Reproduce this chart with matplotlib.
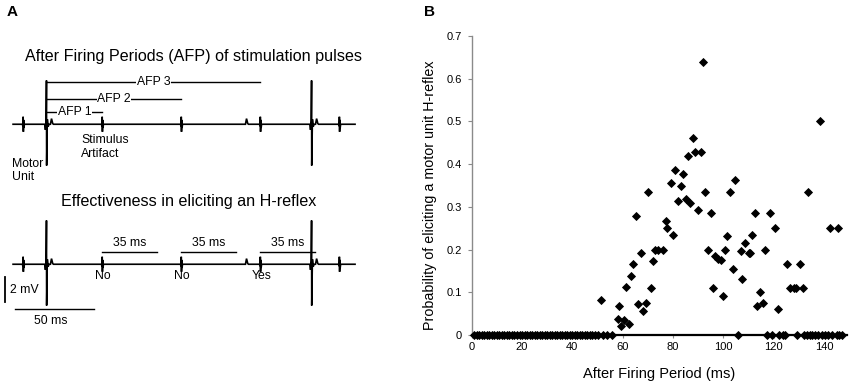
import matplotlib.pyplot as plt

plt.rcParams['font.family'] = ['Liberation Sans', 'DejaVu Sans']

# ---- panel B: probability vs after firing period ----
# zero-probability points, before the H-reflex window opens
afp_zero_early = [1, 2, 3, 4, 5, 6, 7, 8, 9, 10, 11, 12, 13, 14, 15, 16, 17, 18, 19, 20,
                  21, 22, 23, 24, 25, 26, 27, 28, 29, 30, 31, 32, 33, 34, 35, 36, 37, 38,
                  39, 40, 41, 42, 43, 44, 45, 46, 47, 48, 49, 50, 52, 53.7, 55.6]
# zero-probability points at long AFPs
afp_zero_late = [105.7, 117.5, 119.2, 122.3, 123.6, 124.5, 129.2, 132.1, 133.1, 134.5,
                 135.4, 136.4, 137.8, 139.1, 140.4, 141.7, 143.1, 145.1, 146.1, 147.3]
# non-zero probabilities
afp_hit = [51.4, 58.3, 58.4, 59.5, 60.4, 61.3, 62.5, 63.2, 64.2, 65.3, 66.0, 67.2, 68.2,
           69.2, 70.2, 71.1, 71.9, 73.0, 74.2, 75.9, 77.2, 77.7, 79.1, 80.1, 80.9, 82.0,
           83.1, 83.9, 85.0, 86.1, 86.8, 88.0, 88.9, 89.8, 91.0, 91.9, 92.7, 93.9, 95.0,
           95.8, 96.6, 97.7, 98.9, 99.8, 100.8, 101.6, 102.8, 103.9, 104.5, 106.9, 107.6,
           108.6, 110.2, 110.8, 111.6, 112.7, 113.4, 114.5, 115.8, 116.6, 118.6, 120.6,
           121.8, 125.3, 126.5, 127.9, 128.8, 130.6, 131.5, 133.6, 138.4, 142.4, 145.4]
prob_hit = [0.082, 0.037, 0.068, 0.022, 0.035, 0.113, 0.026, 0.137, 0.166, 0.279, 0.072,
            0.191, 0.056, 0.075, 0.334, 0.111, 0.174, 0.2, 0.2, 0.2, 0.267, 0.25, 0.357,
            0.235, 0.386, 0.314, 0.349, 0.376, 0.318, 0.419, 0.31, 0.462, 0.429, 0.293,
            0.429, 0.639, 0.334, 0.2, 0.285, 0.111, 0.184, 0.179, 0.176, 0.091, 0.2, 0.231,
            0.334, 0.155, 0.363, 0.196, 0.132, 0.216, 0.191, 0.191, 0.235, 0.285, 0.067,
            0.1, 0.075, 0.2, 0.285, 0.25, 0.062, 0.167, 0.111, 0.111, 0.111, 0.167, 0.111,
            0.334, 0.5, 0.25, 0.25]

x_ticks = [0, 20, 40, 60, 80, 100, 120, 140]
y_ticks = [0, 0.1, 0.2, 0.3, 0.4, 0.5, 0.6, 0.7]
y_tick_labels = ['0', '0.1', '0.2', '0.3', '0.4', '0.5', '0.6', '0.7']

# ---- panel A: schematic EMG traces (ms / mV) ----
stim_times = [6, 57, 108, 159, 210]
mu_times = [21, 192]
bump_times = [24.5, 150.3, 195.5]
afp_names = ['AFP 1', 'AFP 2', 'AFP 3']
window_ms = 35
h_outcome = ['No', 'No', 'Yes']


def trace(base):
    # piecewise shape of the recording around each event
    stim_shape = [(-0.6, 0), (-0.25, -0.15), (-0.1, 0.6), (0.05, -0.6), (0.2, 0.35),
                  (0.4, -0.3), (0.7, 0)]
    mu_shape = [(-1.2, 0), (-0.7, -0.45), (-0.3, 0.3), (-0.05, 3.5), (0.05, -3.3),
                (0.5, 0.4), (1.0, -0.2), (1.6, 0)]
    bump_shape = [(-1.0, 0), (-0.3, 0.45), (0.5, 0.05), (1.0, 0)]
    events = [(t, stim_shape) for t in stim_times] + [(t, mu_shape) for t in mu_times] + \
             [(t, bump_shape) for t in bump_times]
    events.sort(key=lambda e: e[0])
    xs, ys = [-0.6], [base]
    for t, shape in events:
        for dx, dy in shape:
            xs.append(t + dx)
            ys.append(base + dy)
    xs.append(220)
    ys.append(base)
    return xs, ys


fig = plt.figure(figsize=(8.5, 3.83), dpi=100)

# panel A axes in ms / mV units
ax_a = fig.add_axes([0, 0, 420 / 850, 1])
ax_a.set_xlim(-9.03, 261.9)
ax_a.set_ylim(0, 30.64)
ax_a.axis('off')

top_base = 20.7
bot_base = 9.5

for base in (top_base, bot_base):
    tx, ty = trace(base)
    ax_a.plot(tx, ty, color='black', lw=1.2, solid_joinstyle='miter')

ax_a.text(115.5, 26.1, 'After Firing Periods (AFP) of stimulation pulses',
          ha='center', va='center', fontsize=11.6)
ax_a.text(112.9, 14.5, 'Effectiveness in eliciting an H-reflex',
          ha='center', va='center', fontsize=11.6)

# AFP bars from motor unit to stimulus 1..3
afp_levels = [top_base + 1.0, top_base + 2.0, top_base + 3.4]
for name, stim, lev in zip(afp_names, stim_times[1:4], afp_levels):
    ax_a.plot([mu_times[0], stim], [lev, lev], color='black', lw=1.0)
    ax_a.text((mu_times[0] + stim) / 2, lev, name, ha='center', va='center', fontsize=8.8,
              bbox=dict(fc='white', ec='none', pad=0.4))

ax_a.text(43.2, 19.9, 'Stimulus\nArtifact', ha='left', va='top', fontsize=8.8,
          linespacing=1.15)
ax_a.text(-1.3, 18.0, 'Motor\nUnit', ha='left', va='top', fontsize=8.8, linespacing=1.15)

# 35 ms windows and outcomes
for stim, out in zip(stim_times[1:4], h_outcome):
    ax_a.plot([stim, stim + window_ms], [bot_base + 1.0, bot_base + 1.0],
              color='black', lw=1.0)
    ax_a.text(stim + window_ms / 2, bot_base + 1.2, f'{window_ms} ms', ha='center',
              va='bottom', fontsize=8.8)
    ax_a.text(stim + 0.5, bot_base - 0.95, out, ha='center', va='center', fontsize=8.8)

# scale bars
ax_a.plot([-5.8, -5.8], [6.48, 8.48], color='black', lw=1.3)
ax_a.text(-2.6, 7.44, '2 mV', ha='left', va='center', fontsize=8.8)
ax_a.plot([0.6, 51.6], [5.92, 5.92], color='black', lw=1.0)
ax_a.text(23.5, 5.0, '50 ms', ha='center', va='center', fontsize=8.8)

# panel B scatter
ax_b = fig.add_axes([471.7 / 850, 1 - 335 / 383, (846.6 - 471.7) / 850, 299 / 383])
mk = dict(marker='D', color='black', ms=4.5, mew=0.6, ls='none', clip_on=False, zorder=3)
ax_b.plot(afp_zero_early, [0] * len(afp_zero_early), **mk)
ax_b.plot(afp_zero_late, [0] * len(afp_zero_late), **mk)
ax_b.plot(afp_hit, prob_hit, **mk)

ax_b.set_xlim(0, 149)
ax_b.set_ylim(0, 0.7)
ax_b.set_xticks(x_ticks)
ax_b.set_yticks(y_ticks)
ax_b.set_yticklabels(y_tick_labels)
ax_b.spines['top'].set_visible(False)
ax_b.spines['right'].set_visible(False)
ax_b.spines['left'].set_color('#8a8a8a')
ax_b.spines['left'].set_linewidth(1.0)
ax_b.spines['bottom'].set_color('black')
ax_b.spines['bottom'].set_linewidth(1.6)
ax_b.tick_params(axis='y', length=3, width=0.8, color='#8a8a8a', labelsize=8, pad=4)
ax_b.tick_params(axis='x', length=2, width=0.8, color='#8a8a8a', labelsize=8, pad=3)
ax_b.set_xlabel('After Firing Period (ms)', fontsize=10.5)
ax_b.set_ylabel('Probability of eliciting a motor unit H-reflex', fontsize=10.3)
ax_b.xaxis.set_label_coords(0.5, -0.108)
ax_b.yaxis.set_label_coords(-0.093, 0.467)

fig.text(12 / 850, 1 - 12 / 383, 'A', ha='center', va='center', fontsize=11,
         fontweight='bold')
fig.text(429 / 850, 1 - 12 / 383, 'B', ha='center', va='center', fontsize=11,
         fontweight='bold')

fig.savefig('out.png', dpi=100)
